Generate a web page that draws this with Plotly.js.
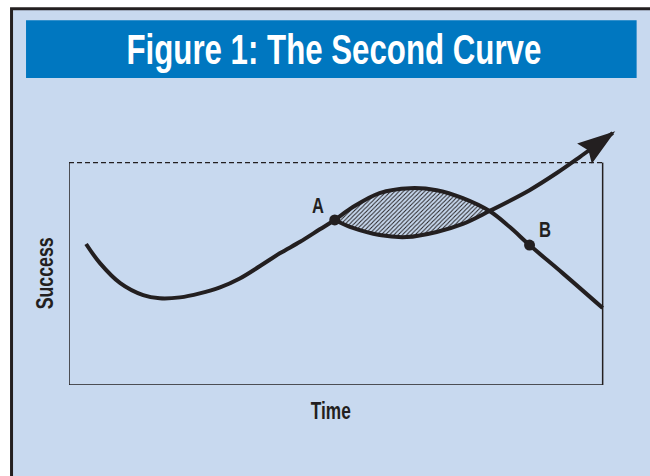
<!DOCTYPE html>
<html>
<head>
<meta charset="utf-8">
<script src="https://cdn.plot.ly/plotly-3.0.1.min.js"></script>
<style>html,body{margin:0;padding:0;background:#fff;}#chart{width:650px;height:476px;}</style>
</head>
<body>
<div id="chart"></div>
<script>
// ---- Data (Time 0-100, Success 0-100) ----
var firstCurveTime    = [3.2, 5.8, 9.6, 13.9, 17.0, 20.8, 24.5, 28.3, 32.0, 35.8, 39.5, 43.3, 47.0, 49.8, 53.2, 58.2, 63.9, 68.9, 73.8, 78.8, 82.6, 86.3, 92.5, 100];
var firstCurveSuccess = [63.4, 54.8, 45.8, 40.4, 39.0, 39.4, 41.2, 43.9, 47.9, 53.5, 59.2, 64.4, 70.0, 74.2, 80.0, 86.3, 88.5, 87.6, 84.0, 78.2, 71.0, 62.9, 50.3, 34.6];

// second curve, last point is the arrow tip
var secondCurveTime    = [49.8, 53.2, 58.2, 63.3, 68.9, 73.8, 78.8, 86.3, 91.4, 95.7, 101.9];
var secondCurveSuccess = [74.2, 70.6, 67.4, 66.5, 68.8, 72.4, 78.2, 87.6, 95.3, 102.5, 113.3];

// gap between curves (hatched lens): upper arc then lower arc reversed
var gapUpperTime    = [49.8, 53.2, 58.2, 63.9, 68.9, 73.8, 78.8];
var gapUpperSuccess = [74.2, 80.0, 86.3, 88.5, 87.6, 84.0, 78.2];
var gapLowerTime    = [49.8, 53.2, 58.2, 63.3, 68.9, 73.8, 78.8];
var gapLowerSuccess = [74.2, 70.6, 67.4, 66.5, 68.8, 72.4, 78.2];

var pointLabels  = ['A', 'B'];
var pointTime    = [49.8, 86.3];
var pointSuccess = [74.2, 62.9];

var titleText = 'Figure 1: The Second Curve';
var xTitle = 'Time';
var yTitle = 'Success';

// ---- Layout geometry ----
var W = 650, H = 476;
var mL = 69, mB = 91;
var xMax = 104, yMax = 116;
var plotW = 534 * xMax / 100, plotH = 222.5 * yMax / 100;
var mR = W - mL - plotW, mT = H - mB - plotH;
function px2x(px) { return (px - mL) / plotW; }
function py2y(py) { return (H - mB - py) / plotH; }
function toPx(x, y) { return [mL + x * plotW / xMax, (H - mB) - y * plotH / yMax]; }
function toData(p) { return [(p[0] - mL) * xMax / plotW, ((H - mB) - p[1]) * yMax / plotH]; }

var ink = '#231f20';
var panel = '#c8d9ef';
var blue = '#0077c0';
var fam = '"Liberation Sans", Arial, sans-serif';

var lensX = gapUpperTime.concat(gapLowerTime.slice().reverse());
var lensY = gapUpperSuccess.concat(gapLowerSuccess.slice().reverse());

var traces = [
  { x: lensX, y: lensY, mode: 'lines', fill: 'toself',
    line: { width: 0, shape: 'spline', smoothing: 1 },
    fillcolor: panel,
    fillpattern: { shape: '/', fgcolor: ink, bgcolor: panel, size: 3, solidity: 0.33 },
    hoverinfo: 'skip', showlegend: false },
  { x: firstCurveTime, y: firstCurveSuccess, mode: 'lines',
    line: { color: ink, width: 4, shape: 'spline', smoothing: 1 }, showlegend: false },
  { x: secondCurveTime, y: secondCurveSuccess, mode: 'lines',
    line: { color: ink, width: 4, shape: 'spline', smoothing: 1 }, showlegend: false },
  { x: pointTime, y: pointSuccess, mode: 'markers',
    marker: { color: ink, size: 11 }, showlegend: false }
];

// arrow head built from the direction of the last curve segment
var n = secondCurveTime.length;
var pTip = toPx(secondCurveTime[n - 1], secondCurveSuccess[n - 1]);
var pPrev = toPx(secondCurveTime[n - 2], secondCurveSuccess[n - 2]);
var dx = pTip[0] - pPrev[0], dy = pTip[1] - pPrev[1], len = Math.sqrt(dx * dx + dy * dy);
var ux = dx / len, uy = dy / len, nx = -uy, ny = ux;
var headLen = 38, headHalf = 12.5, notch = 33, ahead = 3;
var hT = [pTip[0] + ux * ahead, pTip[1] + uy * ahead];
var hL = [hT[0] - ux * headLen + nx * headHalf, hT[1] - uy * headLen + ny * headHalf];
var hR = [hT[0] - ux * headLen - nx * headHalf, hT[1] - uy * headLen - ny * headHalf];
var hN = [hT[0] - ux * notch, hT[1] - uy * notch];
var headPts = [hT, hL, hN, hR].map(toData);
var headPath = 'M' + headPts.map(function (p) { return p[0] + ',' + p[1]; }).join('L') + 'Z';

// target rendered widths (px) to mimic the condensed typeface
var squeeze = {};
squeeze[titleText] = 415; squeeze[xTitle] = 40; squeeze[yTitle] = 72;
squeeze[pointLabels[0]] = 12; squeeze[pointLabels[1]] = 12;

var annotations = [
  { xref: 'paper', yref: 'paper', x: px2x(334), y: py2y(49), xanchor: 'center', yanchor: 'middle',
    text: titleText, showarrow: false,
    font: { family: fam, size: 42, color: '#ffffff', weight: 'bold' } },
  { xref: 'paper', yref: 'paper', x: px2x(331), y: py2y(411), xanchor: 'center', yanchor: 'middle',
    text: xTitle, showarrow: false,
    font: { family: fam, size: 24, color: ink, weight: 'bold' } },
  { xref: 'paper', yref: 'paper', x: px2x(44), y: py2y(274), xanchor: 'center', yanchor: 'middle',
    text: yTitle, showarrow: false, textangle: -90,
    font: { family: fam, size: 24, color: ink, weight: 'bold' } },
  { x: pointTime[0], y: pointSuccess[0], xref: 'x', yref: 'y', text: pointLabels[0],
    showarrow: false, xshift: -17, yshift: 14, font: { family: fam, size: 22, color: ink, weight: 'bold' } },
  { x: pointTime[1], y: pointSuccess[1], xref: 'x', yref: 'y', text: pointLabels[1],
    showarrow: false, xshift: 15, yshift: 16, font: { family: fam, size: 22, color: ink, weight: 'bold' } }
];

var shapes = [
  { type: 'rect', xref: 'paper', yref: 'paper', layer: 'below',
    x0: px2x(11.5), x1: px2x(700), y0: py2y(600), y1: py2y(8.5),
    fillcolor: panel, line: { color: ink, width: 3 } },
  { type: 'rect', xref: 'paper', yref: 'paper', layer: 'below',
    x0: px2x(26), x1: px2x(637), y0: py2y(78), y1: py2y(20),
    fillcolor: blue, line: { width: 0 } },
  { type: 'line', xref: 'x', yref: 'y', x0: 0, y0: 0, x1: 0, y1: 100, line: { color: ink, width: 1.5 } },
  { type: 'line', xref: 'x', yref: 'y', x0: 0, y0: 0, x1: 100, y1: 0, line: { color: ink, width: 1.5 } },
  { type: 'line', xref: 'x', yref: 'y', x0: 100, y0: 0, x1: 100, y1: 100, line: { color: ink, width: 1.5 } },
  { type: 'line', xref: 'x', yref: 'y', x0: 0, y0: 100, x1: 100, y1: 100, line: { color: ink, width: 1.2, dash: '5px,3px' } },
  { type: 'path', xref: 'x', yref: 'y', path: headPath, fillcolor: ink, line: { width: 0 } }
];

var layout = {
  width: W, height: H, autosize: false,
  margin: { l: mL, r: mR, t: mT, b: mB, pad: 0 },
  paper_bgcolor: '#ffffff', plot_bgcolor: 'rgba(0,0,0,0)',
  showlegend: false,
  xaxis: { range: [0, xMax], visible: false, fixedrange: true },
  yaxis: { range: [0, yMax], visible: false, fixedrange: true },
  shapes: shapes, annotations: annotations
};

Plotly.newPlot('chart', traces, layout, { displayModeBar: false, staticPlot: true }).then(function (gd) {
  var texts = gd.querySelectorAll('.annotation-text');
  texts.forEach(function (t) {
    var w = squeeze[t.textContent];
    if (!w) return;
    var bb = t.getBBox();
    if (!bb.width) return;
    var s = w / bb.width;
    var cx = bb.x + bb.width / 2;
    t.setAttribute('transform', 'translate(' + (cx * (1 - s)) + ',0) scale(' + s + ',1)');
  });
});
</script>
</body>
</html>
